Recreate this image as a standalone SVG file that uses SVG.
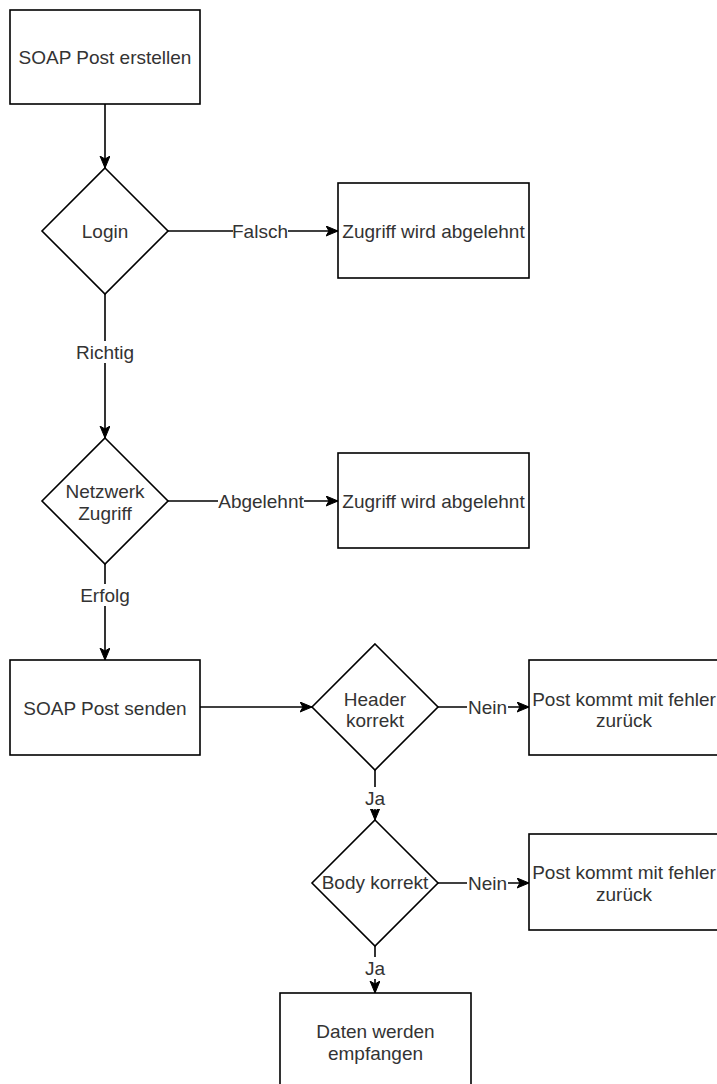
<svg xmlns="http://www.w3.org/2000/svg" width="717" height="1084" viewBox="0 0 717 1084">
<style>
.box{fill:#fff;stroke:#000;stroke-width:1.6}
.t{font-family:"Liberation Sans",Arial,sans-serif;font-size:19px;fill:#333;text-anchor:middle}
.e{stroke:#000;stroke-width:1.6;fill:none}
.lb{fill:#fff}
</style>
<defs>
<marker id="arr" markerUnits="userSpaceOnUse" markerWidth="14" markerHeight="12" refX="12" refY="5" orient="auto" viewBox="0 0 14 12">
<path d="M0,0 L12,5 L0,10 L3,5 z" fill="#000" stroke="#000" stroke-width="1"/>
</marker>
</defs>
<rect width="717" height="1084" fill="#fff"/>
<g id="connectors">
<path class="e" d="M105,104 V168" marker-end="url(#arr)"/>
<path class="e" d="M168,231 H338" marker-end="url(#arr)"/>
<rect class="lb" x="233" y="220" width="55" height="22"/>
<text class="t" x="260" y="238">Falsch</text>
<path class="e" d="M105,294 V438" marker-end="url(#arr)"/>
<rect class="lb" x="75" y="341" width="60" height="22"/>
<text class="t" x="105" y="359">Richtig</text>
<path class="e" d="M168,501 H338" marker-end="url(#arr)"/>
<rect class="lb" x="218" y="490" width="86" height="22"/>
<text class="t" x="261" y="508">Abgelehnt</text>
<path class="e" d="M105,564 V660" marker-end="url(#arr)"/>
<rect class="lb" x="79" y="584" width="52" height="22"/>
<text class="t" x="105" y="602">Erfolg</text>
<path class="e" d="M200,707 H312" marker-end="url(#arr)"/>
<path class="e" d="M438,707 H529" marker-end="url(#arr)"/>
<rect class="lb" x="467" y="696" width="41" height="22"/>
<text class="t" x="487.5" y="714">Nein</text>
<path class="e" d="M375,770 V820" marker-end="url(#arr)"/>
<rect class="lb" x="364" y="787" width="22" height="22"/>
<text class="t" x="375" y="805">Ja</text>
<path class="e" d="M438,883 H529" marker-end="url(#arr)"/>
<rect class="lb" x="467" y="872" width="41" height="22"/>
<text class="t" x="487.5" y="890">Nein</text>
<path class="e" d="M375,946 V993" marker-end="url(#arr)"/>
<rect class="lb" x="364" y="957" width="22" height="22"/>
<text class="t" x="375" y="975">Ja</text>
</g>
<g id="soap-erstellen">
<rect class="box" x="10" y="10" width="190" height="94"/>
<text class="t" x="105" y="64">SOAP Post erstellen</text>
</g>
<g id="login">
<path class="box" d="M105,168 L168,231 L105,294 L42,231 Z"/>
<text class="t" x="105" y="238">Login</text>
</g>
<g id="zugriff-abgelehnt-1">
<rect class="box" x="338" y="183" width="191" height="95"/>
<text class="t" x="433.5" y="238">Zugriff wird abgelehnt</text>
</g>
<g id="netzwerk">
<path class="box" d="M105,438 L168,501 L105,564 L42,501 Z"/>
<text class="t" x="105" y="498">Netzwerk</text>
<text class="t" x="105" y="520">Zugriff</text>
</g>
<g id="zugriff-abgelehnt-2">
<rect class="box" x="338" y="453" width="191" height="95"/>
<text class="t" x="433.5" y="508">Zugriff wird abgelehnt</text>
</g>
<g id="soap-senden">
<rect class="box" x="10" y="660" width="190" height="95"/>
<text class="t" x="105" y="715">SOAP Post senden</text>
</g>
<g id="header">
<path class="box" d="M375,644 L438,707 L375,770 L312,707 Z"/>
<text class="t" x="375" y="706">Header</text>
<text class="t" x="375" y="727">korrekt</text>
</g>
<g id="fehler-1">
<rect class="box" x="529" y="660" width="191" height="95"/>
<text class="t" x="624" y="706">Post kommt mit fehler</text>
<text class="t" x="624" y="727">zurück</text>
</g>
<g id="body">
<path class="box" d="M375,820 L438,883 L375,946 L312,883 Z"/>
<text class="t" x="375" y="889">Body korrekt</text>
</g>
<g id="fehler-2">
<rect class="box" x="529" y="834" width="191" height="96"/>
<text class="t" x="624" y="879">Post kommt mit fehler</text>
<text class="t" x="624" y="901">zurück</text>
</g>
<g id="daten">
<rect class="box" x="280" y="993" width="191" height="96"/>
<text class="t" x="375.5" y="1038">Daten werden</text>
<text class="t" x="375.5" y="1060">empfangen</text>
</g>
</svg>
